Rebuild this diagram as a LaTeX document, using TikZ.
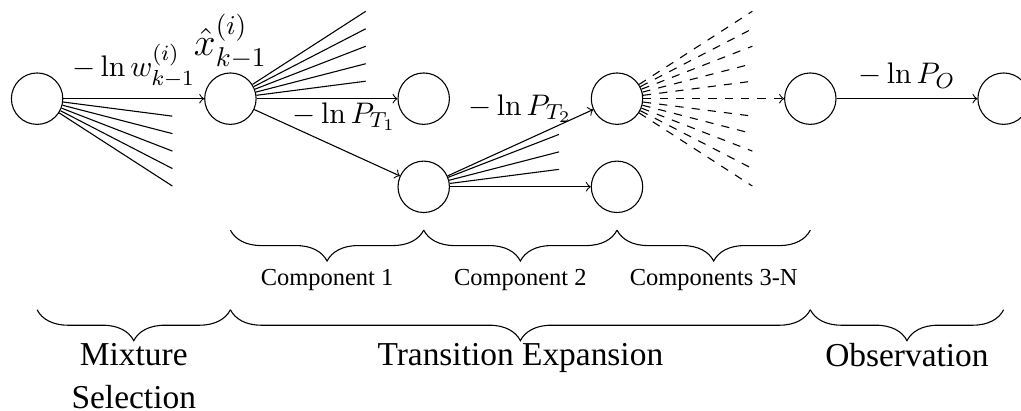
\documentclass[11pt,tikz,border=0pt]{standalone}
\usepackage[no-math]{fontspec}
\newfontfamily\gmtext{Liberation Serif}
\usepackage{amsmath,amssymb}
\usetikzlibrary{decorations.pathreplacing}
\tikzset{
  gmstate/.style={circle, draw, minimum size=6.65mm, inner sep=0pt},
  gmedgelab/.style={above=3.5pt},
  gmbrace/.style={decorate, decoration={brace, mirror, amplitude=0.4cm}},
  gmsub/.style={font=\gmtext\fontsize{9}{11}\selectfont},
  gmphase/.style={font=\gmtext\fontsize{12.3}{16}\selectfont, align=center},
}

\begin{document}
\begin{tikzpicture}[>=to]
  \useasboundingbox (-0.48,-4.03) rectangle (12.725,1.276);
  % states
  \node[gmstate] (S0) at (0,0) {};
  \node[gmstate, label={[inner sep=1pt, font=\Large]above:$\hat{x}^{(i)}_{k-1}$}] (S1) at (2.5,0) {};
  \node[gmstate] (S2) at (5,0) {};
  \node[gmstate] (S3) at (5,-1.14) {};
  \node[gmstate] (S4) at (7.5,0) {};
  \node[gmstate] (S5) at (7.5,-1.14) {};
  \node[gmstate] (S6) at (10,0) {};
  \node[gmstate] (S7) at (12.5,0) {};

  % fans of unexpanded branches
  \foreach \k in {1,...,5} {
    \coordinate (fa\k) at (1.75,-0.226*\k);
    \coordinate (fb\k) at (4.25,0.226*\k);
    \coordinate (fd\k) at (9.25,0.226*\k);
    \coordinate (fe\k) at (9.25,-0.226*\k);
    \draw (S0) -- (fa\k);
    \draw (S1) -- (fb\k);
    \draw[dashed] (S4) -- (fd\k);
    \draw[dashed] (S4) -- (fe\k);
  }
  \foreach \k in {1,2,3} {
    \coordinate (fc\k) at (6.75,-1.14+0.226*\k);
    \draw (S3) -- (fc\k);
  }

  % expanded path
  \draw[->] (S0) -- node[above]{$-\ln w^{(i)}_{k-1}$} (S1);
  \draw[->] (S1) -- (S2);
  \draw[->] (S1) -- node[pos=0.62, gmedgelab]{$-\ln P_{T_1}$} (S3);
  \draw[->] (S3) -- node[gmedgelab]{$-\ln P_{T_2}$} (S4);
  \draw[->] (S3) -- (S5);
  \draw[->, dashed] (S4) -- (S6);
  \draw[->] (S6) -- node[above]{$-\ln P_O$} (S7);

  % braces
  \draw[gmbrace] (2.5,-1.7) -- node[gmsub, below=10.5pt]{Component 1} (5,-1.7);
  \draw[gmbrace] (5,-1.7) -- node[gmsub, below=10.5pt]{Component 2} (7.5,-1.7);
  \draw[gmbrace] (7.5,-1.7) -- node[gmsub, below=10.5pt]{Components 3-N} (10,-1.7);
  \draw[gmbrace] (0,-2.73) -- node[gmphase, below=8.5pt]{Mixture\\Selection} (2.5,-2.73);
  \draw[gmbrace] (2.5,-2.73) -- node[gmphase, below=8.5pt]{Transition Expansion} (10,-2.73);
  \draw[gmbrace] (10,-2.73) -- node[gmphase, below=8.5pt]{Observation} (12.5,-2.73);
\end{tikzpicture}
\end{document}
